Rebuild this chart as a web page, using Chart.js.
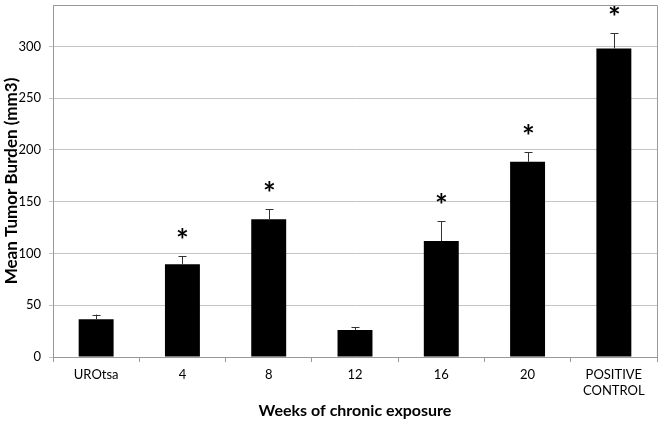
<!DOCTYPE html>
<html>
<head>
<meta charset="utf-8">
<script src="https://cdn.jsdelivr.net/npm/chart.js@4"></script>
<style>
  html, body { margin:0; padding:0; background:#fff; }
  #wrap { width:666px; height:423px; }
</style>
</head>
<body>
<div id="wrap"><canvas id="c" width="666" height="423"></canvas></div>
<script>
const categories = ['UROtsa', '4', '8', '12', '16', '20', ['POSITIVE', 'CONTROL']];
const meanBurden = [36.5, 89.5, 133, 26, 112, 188.5, 298];
const errorUpper = [4.5, 8, 9.5, 3, 19, 9.5, 14.5];
const significant = [false, true, true, false, true, true, true];
const yTicks = [0, 50, 100, 150, 200, 250, 300];

const FONT = 'Lato, "Open Sans", sans-serif';

const extras = {
  id: 'extras',
  afterDatasetsDraw(chart) {
    const ctx = chart.ctx;
    const x = chart.scales.x, y = chart.scales.y;
    const area = chart.chartArea;
    ctx.save();
    ctx.strokeStyle = '#333';
    ctx.lineWidth = 1;
    meanBurden.forEach((v, i) => {
      const px = Math.round(x.getPixelForValue(i)) + 0.5;
      const yTop = y.getPixelForValue(v + errorUpper[i]);
      const yBar = y.getPixelForValue(v);
      ctx.beginPath();
      ctx.moveTo(px, yBar);
      ctx.lineTo(px, yTop);
      ctx.moveTo(px - 4, Math.round(yTop) + 0.5);
      ctx.lineTo(px + 4, Math.round(yTop) + 0.5);
      ctx.stroke();
      if (significant[i]) {
        ctx.fillStyle = '#000';
        ctx.font = 'bold 30px ' + FONT;
        ctx.textAlign = 'center';
        ctx.textBaseline = 'middle';
        ctx.fillText('*', px, yTop - 15);
      }
    });
    ctx.strokeStyle = '#999';
    ctx.beginPath();
    ctx.moveTo(area.left, Math.round(area.top) + 0.5);
    ctx.lineTo(Math.round(area.right) + 0.5, Math.round(area.top) + 0.5);
    ctx.lineTo(Math.round(area.right) + 0.5, area.bottom);
    ctx.stroke();
    ctx.restore();
  }
};

new Chart(document.getElementById('c'), {
  type: 'bar',
  data: {
    labels: categories,
    datasets: [{
      data: meanBurden,
      backgroundColor: '#000',
      borderWidth: 0,
      barPercentage: 0.405,
      categoryPercentage: 1.0
    }]
  },
  options: {
    responsive: false,
    animation: false,
    devicePixelRatio: 1,
    layout: { padding: { left: 0, right: 9, top: 5, bottom: 0 } },
    plugins: { legend: { display: false }, tooltip: { enabled: false } },
    scales: {
      x: {
        grid: {
          display: true, drawOnChartArea: false, drawTicks: true,
          tickLength: 5, color: '#999', offset: true
        },
        border: { color: '#999' },
        ticks: { color: '#000', font: { family: FONT, size: 13 }, padding: 5, maxRotation: 0, autoSkip: false },
        title: {
          display: true, text: 'Weeks of chronic exposure', color: '#000',
          font: { family: FONT, size: 16, weight: 'bold' },
          padding: { top: 0, bottom: 3 }
        },
        afterFit(scale) {
          scale.height = 66;
          scale.paddingLeft = 0; scale.paddingRight = 0;
        }
      },
      y: {
        min: 0, max: 340,
        afterBuildTicks(scale) { scale.ticks = yTicks.map(v => ({ value: v })); },
        grid: { color: '#c4c4c4', tickLength: 4, drawTicks: true },
        border: { color: '#999' },
        ticks: { color: '#000', font: { family: FONT, size: 13 }, padding: 8 },
        title: {
          display: true, text: 'Mean Tumor Burden (mm3)', color: '#000',
          font: { family: FONT, size: 17, weight: 'bold' },
          padding: { top: 1, bottom: 0 }
        },
        afterFit(scale) {
          scale.width = 53;
          scale.paddingTop = 0; scale.paddingBottom = 0;
        }
      }
    }
  },
  plugins: [extras]
});
</script>
</body>
</html>
